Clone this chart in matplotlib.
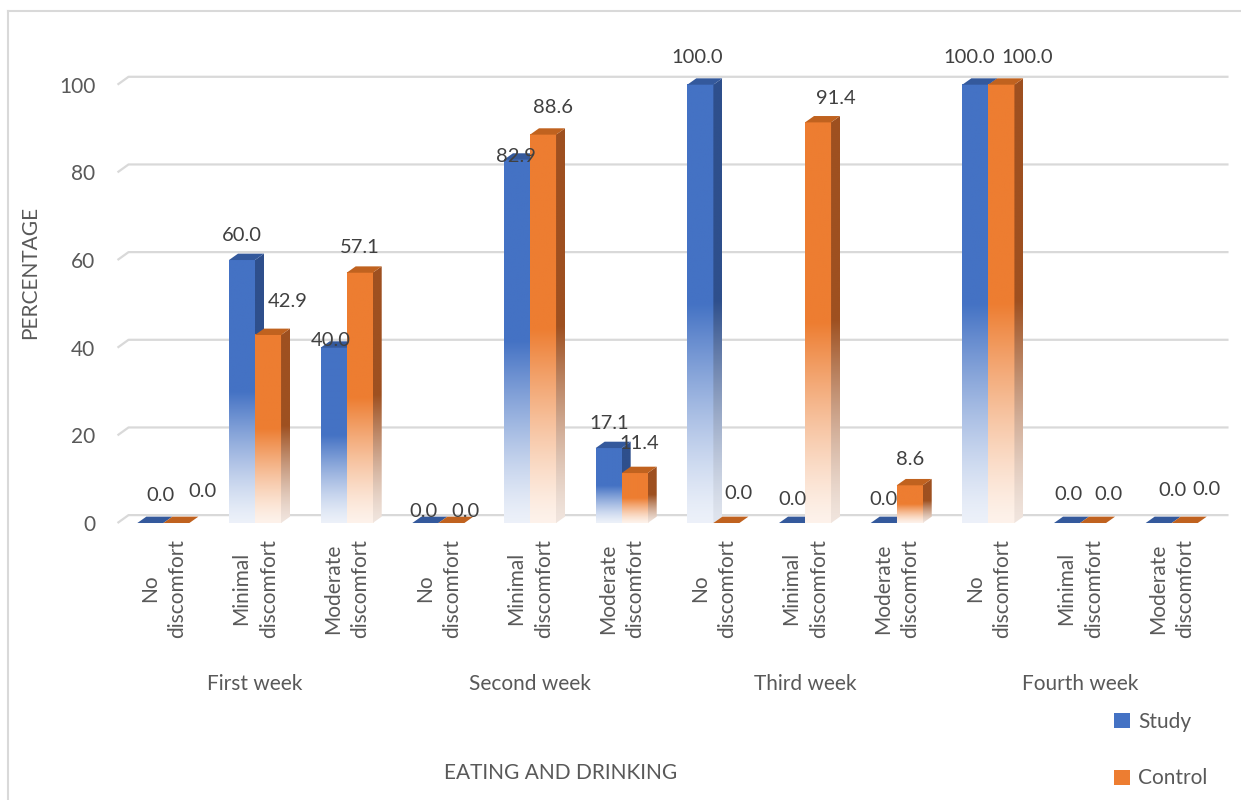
import numpy as np
from matplotlib import pyplot as plt
from matplotlib.patches import Polygon, Patch
from matplotlib.lines import Line2D
from matplotlib.transforms import blended_transform_factory

plt.rcParams['font.family'] = ['Lato', 'DejaVu Sans']
plt.rcParams['font.size'] = 15
TXT = '#595959'

weeks = ['First week', 'Second week', 'Third week', 'Fourth week']
levels = ['No\ndiscomfort', 'Minimal\ndiscomfort', 'Moderate\ndiscomfort']
study = [0.0, 60.0, 40.0, 0.0, 82.9, 17.1, 100.0, 0.0, 0.0, 100.0, 0.0, 0.0]
control = [0.0, 42.9, 57.1, 0.0, 88.6, 11.4, 0.0, 91.4, 8.6, 100.0, 0.0, 0.0]
yticks = [0, 20, 40, 60, 80, 100]

# label nudges in pixels (dx, dy above the bar top)
study_nudge = [(10, 28), (0, 25), (-3, 7), (-2, 12), (-1, 3), (0, 25),
               (-3, 27), (0, 24), (0, 24), (-6, 27), (1, 29), (14, 33)]
control_nudge = [(26, 32), (20, 33), (0, 25), (14, 12), (10, 27), (5, 30),
                 (12, 30), (18, 24), (0, 26), (26, 27), (15, 29), (22, 34)]

series = [('Study', study, study_nudge, '#4472C4', '#2E4F8C', '#34599C'),
          ('Control', control, control_nudge, '#ED7D31', '#9E5020', '#C0621F')]

fig = plt.figure(figsize=(12.41, 8.0), dpi=100)
ax = fig.add_axes([0.0947, 0.3298, 0.8864, 0.6027])

w = 0.284      # bar width
d = 0.098      # depth of bar (x)
dz = 1.45      # depth of bar (y)
dw, dzw = 0.12, 1.8   # depth of back wall


def shade(rgb, n=200, white=0.9):
    c = np.array(plt.matplotlib.colors.to_rgb(rgb))
    f = np.linspace(0, 1, n)
    t = np.clip(f / 0.5, 0, 1)
    mix = (1 - white) + white * t ** 1.3
    img = (1 - mix)[:, None] + mix[:, None] * c[None, :]
    return img[:, None, :]


# back wall gridlines
for v in yticks:
    ax.plot([-0.5, -0.5 + dw, 11.5 + dw], [v, v + dzw, v + dzw], color='#d9d9d9',
            lw=1.6, clip_on=False, zorder=0, solid_capstyle='butt')

z = 2
for c in range(12):
    for k, (name, vals, nudge, col, side, top) in enumerate(series):
        v = vals[c]
        x0 = c - w + k * w
        x1 = x0 + w
        if v > 0:
            ax.imshow(shade(col), extent=[x0, x1, 0, v], origin='lower',
                      aspect='auto', interpolation='bilinear', zorder=z)
            sp = Polygon([(x1, 0), (x1 + d, dz), (x1 + d, v + dz), (x1, v)],
                         closed=True, facecolor='none', edgecolor='none')
            ax.add_patch(sp)
            im2 = ax.imshow(shade(side, white=0.85), extent=[x1, x1 + d, 0, v + dz],
                            origin='lower', aspect='auto', interpolation='bilinear',
                            zorder=z)
            im2.set_clip_path(sp)
        ax.add_patch(Polygon([(x0, v), (x1, v), (x1 + d, v + dz), (x0 + d, v + dz)],
                             closed=True, facecolor=top, edgecolor='none', zorder=z))
        z += 1
        dx, dy = nudge[c]
        ax.annotate(f'{v:.1f}', xy=(x0 + w / 2, v), xytext=(dx, dy),
                    textcoords='offset pixels', ha='center', va='center',
                    fontsize=14.5, color='#404040', zorder=50)

ax.set_xlim(-0.5, 11.5)
ax.set_ylim(-3, 107)
for s in ax.spines.values():
    s.set_visible(False)
ax.set_yticks(yticks)
ax.set_yticklabels([str(t) for t in yticks], color=TXT)
ax.set_xticks(range(12))
ax.set_xticklabels(levels * 4, rotation=90, color=TXT, linespacing=1.45)
ax.tick_params(axis='y', length=0, pad=16)
ax.tick_params(axis='x', length=0, pad=2)

trans = blended_transform_factory(ax.transData, fig.transFigure)
for i, wk in enumerate(weeks):
    ax.text(3 * i + 1, 1 - 684 / 800, wk, transform=trans, ha='center', va='center',
            color=TXT)

fig.text(30 / 1241, 1 - 272 / 800, 'PERCENTAGE', rotation=90, ha='center',
         va='center', color=TXT)
fig.text(561 / 1241, 1 - 773 / 800, 'EATING AND DRINKING', ha='center',
         va='center', color=TXT)

handles = [Patch(facecolor=s[3]) for s in series]
fig.legend(handles, [s[0] for s in series], loc='upper left',
           bbox_to_anchor=(1114 / 1241, 1 - 712 / 800), frameon=False,
           handlelength=0.75, handleheight=0.75, handletextpad=0.4,
           labelspacing=1.75, borderpad=0, borderaxespad=0, labelcolor=TXT)

# chart border
fig.add_artist(Line2D([8 / 1241, 8 / 1241], [0, 1 - 11 / 800], color='#d9d9d9',
                      lw=1.5, transform=fig.transFigure))
fig.add_artist(Line2D([8 / 1241, 1], [1 - 11 / 800, 1 - 11 / 800], color='#d9d9d9',
                      lw=1.5, transform=fig.transFigure))

fig.savefig('out.png', dpi=100)
